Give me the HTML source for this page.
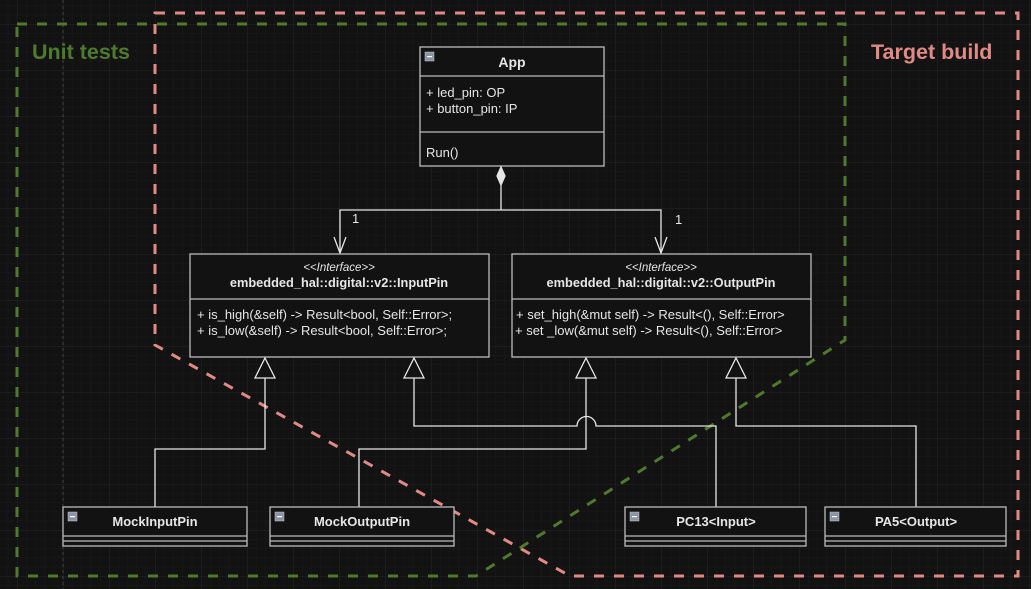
<!DOCTYPE html>
<html><head><meta charset="utf-8"><style>
html,body{margin:0;padding:0;background:#121212;width:1031px;height:589px;overflow:hidden}
svg text{font-family:"Liberation Sans",sans-serif}
</style></head><body>
<svg width="1031" height="589" viewBox="0 0 1031 589" xmlns="http://www.w3.org/2000/svg">
<defs>
<pattern id="minor" x="17" y="24" width="9.2" height="9.2" patternUnits="userSpaceOnUse">
<path d="M0 0H9.2M0 0V9.2" stroke="#1b1b1b" stroke-width="1" fill="none"/></pattern>
<pattern id="major" x="17" y="24" width="46" height="46" patternUnits="userSpaceOnUse">
<path d="M0 0H46M0 0V46" stroke="#272727" stroke-width="1" fill="none"/></pattern>
</defs>
<rect width="1031" height="589" fill="#121212"/>
<rect width="1031" height="589" fill="url(#minor)"/>
<rect width="1031" height="589" fill="url(#major)"/>
<line x1="63" y1="0" x2="63" y2="589" stroke="#444" stroke-dasharray="3,3" stroke-width="1"/>

<path d="M155 13H1018V576H570L155 345Z" fill="none" stroke="#e08a86" stroke-width="3" stroke-dasharray="10,10"/>
<path d="M17 24H845V340L476 576H17Z" fill="none" stroke="#4e7a2e" stroke-width="3" stroke-dasharray="10,10"/>
<text x="32" y="59" font-size="21.5" font-weight="bold" fill="#4e7a2e">Unit tests</text>
<text x="871" y="59" font-size="21.5" font-weight="bold" fill="#e08a86">Target build</text>

<g stroke="#e6e6e6" stroke-width="1.3" fill="none">
<rect x="420" y="47" width="184" height="119" fill="#121212" stroke="#bbb"/>
<line x1="420" y1="76" x2="604" y2="76" stroke="#bbb"/>
<line x1="420" y1="132" x2="604" y2="132" stroke="#bbb"/>
<path d="M501 167L505 176L501 185L497 176Z" fill="#e6e6e6"/>
<path d="M501 185V210H340V253M501 210H661V253"/>
<path d="M334 237L340 253L346 237M655 237L661 253L667 237"/>
<rect x="190" y="254" width="299" height="103" fill="#121212" stroke="#bbb"/>
<line x1="190" y1="299" x2="489" y2="299" stroke="#bbb"/>
<rect x="512" y="254" width="299" height="103" fill="#121212" stroke="#bbb"/>
<line x1="512" y1="299" x2="811" y2="299" stroke="#bbb"/>
<path d="M155 507V449H265V378"/>
<path d="M359 507V449H586V378"/>
<path d="M716 507V426H596A9 9 0 0 0 577 426H414V378"/>
<path d="M916 507V426H736V378"/>
<path d="M265 358L275 378H255Z M414 358L424 378H404Z M586 358L596 378H576Z M736 358L746 378H726Z" fill="#121212"/>
<g stroke="#bbb" fill="#121212">
<rect x="63" y="507" width="184" height="39"/>
<rect x="270" y="507" width="184" height="39"/>
<rect x="625" y="507" width="181" height="39"/>
<rect x="825" y="507" width="181" height="39"/>
</g>
<path d="M63 536H247M63 541H247M270 536H454M270 541H454M625 536H806M625 541H806M825 536H1006M825 541H1006" stroke="#bbb"/>
</g>
<g fill="#8a93a8" stroke="#ccc" stroke-width="0.5">
<rect x="425" y="52" width="9" height="9"/>
<rect x="68" y="512" width="9" height="9"/>
<rect x="275" y="512" width="9" height="9"/>
<rect x="630" y="512" width="9" height="9"/>
<rect x="830" y="512" width="9" height="9"/>
</g>
<g fill="#fff"><rect x="427" y="56" width="5" height="1.2"/><rect x="70" y="516" width="5" height="1.2"/><rect x="277" y="516" width="5" height="1.2"/><rect x="632" y="516" width="5" height="1.2"/><rect x="832" y="516" width="5" height="1.2"/></g>

<g fill="#e6e6e6" font-size="13">
<text x="512" y="67" text-anchor="middle" font-weight="bold" font-size="14">App</text>
<text x="426" y="97">+ led_pin: OP</text>
<text x="426" y="113">+ button_pin: IP</text>
<text x="426" y="157">Run()</text>
<text x="352" y="223">1</text>
<text x="675" y="224">1</text>
<text x="339" y="271" text-anchor="middle" font-style="italic" font-size="11.5">&lt;&lt;Interface&gt;&gt;</text>
<text x="339" y="287" text-anchor="middle" font-weight="bold" font-size="12.8">embedded_hal::digital::v2::InputPin</text>
<text x="197" y="319">+ is_high(&amp;self) -&gt; Result&lt;bool, Self::Error&gt;;</text>
<text x="197" y="335">+ is_low(&amp;self) -&gt; Result&lt;bool, Self::Error&gt;;</text>
<text x="661" y="271" text-anchor="middle" font-style="italic" font-size="11.5">&lt;&lt;Interface&gt;&gt;</text>
<text x="661" y="287" text-anchor="middle" font-weight="bold" font-size="12.8">embedded_hal::digital::v2::OutputPin</text>
<text x="516" y="319">+ set_high(&amp;mut self) -&gt; Result&lt;(), Self::Error&gt;</text>
<text x="515" y="335">+ set _low(&amp;mut self) -&gt; Result&lt;(), Self::Error&gt;</text>
<text x="155" y="526" text-anchor="middle" font-weight="bold">MockInputPin</text>
<text x="362" y="526" text-anchor="middle" font-weight="bold">MockOutputPin</text>
<text x="716" y="526" text-anchor="middle" font-weight="bold">PC13&lt;Input&gt;</text>
<text x="916" y="526" text-anchor="middle" font-weight="bold">PA5&lt;Output&gt;</text>
</g>
</svg>
</body></html>
